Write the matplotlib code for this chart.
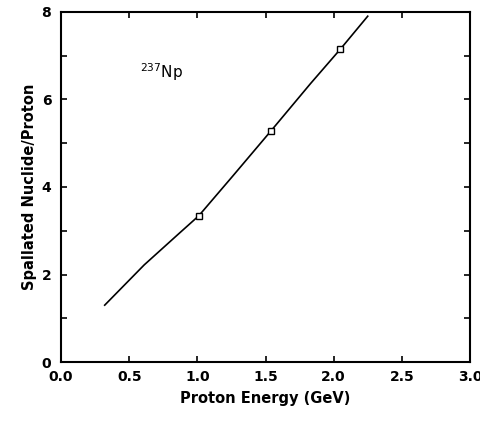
import matplotlib
matplotlib.use("Agg")
import matplotlib.pyplot as plt

energy = [0.32, 0.61, 0.87, 1.01, 1.26, 1.54, 1.83, 2.05, 2.25]
nuclide = [1.30, 2.22, 2.95, 3.34, 4.25, 5.28, 6.36, 7.15, 7.90]
marker_energy = [1.01, 1.54, 2.05]
marker_nuclide = [3.34, 5.28, 7.15]
xticks = [0.0, 0.5, 1.0, 1.5, 2.0, 2.5, 3.0]
xticklabels = ["0.0", "0.5", "1.0", "1.5", "2.0", "2.5", "3.0"]
yticks = [0, 2, 4, 6, 8]

plt.rcParams['font.family'] = ['DejaVu Sans']
fig = plt.figure(figsize=(4.81, 4.22), dpi=100)
ax = fig.add_axes([0.127, 0.142, 0.85, 0.83])
ax.plot(energy, nuclide, color='black', lw=1.2)
ax.plot(marker_energy, marker_nuclide, 's', ms=4.5, mfc='white', mec='black', mew=1.0)
ax.set_xlim(0, 3.0)
ax.set_ylim(0, 8)
ax.set_xticks(xticks)
ax.set_xticklabels(xticklabels, fontsize=10, fontweight='bold')
ax.set_yticks(yticks)
ax.set_yticklabels([str(v) for v in yticks], fontsize=10, fontweight='bold')
ax.set_yticks([1, 3, 5, 7], minor=True)
ax.tick_params(which='both', direction='in', top=True, right=True, width=1.2, length=4)
ax.tick_params(axis='x', which='major', pad=6)
ax.tick_params(axis='y', which='major', pad=7)
for s in ax.spines.values():
    s.set_linewidth(1.5)
ax.set_xlabel("Proton Energy (GeV)", fontsize=10.5, fontweight='bold', labelpad=5)
ax.set_ylabel("Spallated Nuclide/Proton", fontsize=10.5, fontweight='bold', labelpad=3)
ax.text(0.58, 6.63, r"$^{237}$Np", fontsize=11, va='center', ha='left')
fig.savefig("out.png", dpi=100)
